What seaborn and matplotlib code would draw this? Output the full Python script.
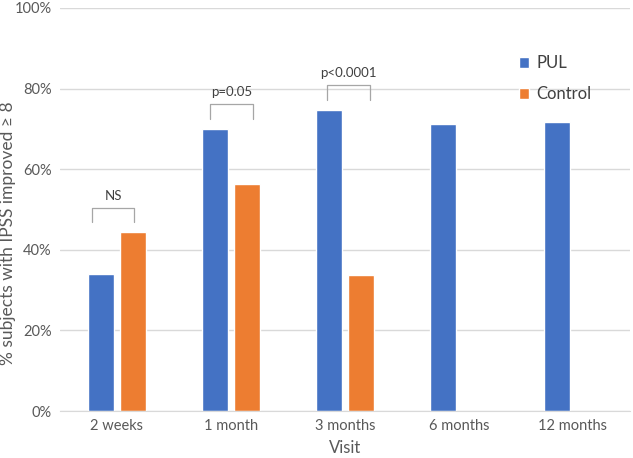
import numpy as np
import pandas as pd
import matplotlib
matplotlib.use("Agg")
import matplotlib.pyplot as plt
import seaborn as sns

visits = ["2 weeks", "1 month", "3 months", "6 months", "12 months"]
pul = [34.0, 70.0, 74.7, 71.3, 71.8]
control = [44.4, 56.3, 33.7, np.nan, np.nan]
groups = ["PUL", "Control"]
colors = ["#4472C4", "#ED7D31"]

brackets = [
    # (visit index, left, right, leg bottom, top, label)
    (0, -0.22, 0.15, 46.9, 50.4, "NS"),
    (1, -0.18, 0.19, 72.5, 76.2, "p=0.05"),
    (2, -0.16, 0.22, 77.2, 80.9, "p<0.0001"),
]

df = pd.DataFrame({
    "Visit": visits * 2,
    "value": pul + control,
    "group": ["PUL"] * len(visits) + ["Control"] * len(visits),
}).dropna()

sns.set_style("white")
plt.rcParams["font.family"] = ["Lato", "DejaVu Sans"]

fig = plt.figure(figsize=(6.33, 4.58), dpi=100)
ax = fig.add_axes([0.0948, 0.1026, 0.9002, 0.88])

sns.barplot(data=df, x="Visit", y="value", hue="group", order=visits,
            hue_order=groups, palette=colors, width=0.56, gap=0.18,
            ax=ax, saturation=1, errorbar=None)

ax.set_ylim(0, 100)
ax.set_xlim(-0.5, len(visits) - 0.5)
ax.set_yticks(range(0, 101, 20))
ax.set_yticklabels([f"{v}%" for v in range(0, 101, 20)])
ax.yaxis.grid(True, color="#d9d9d9", linewidth=1)
ax.set_axisbelow(True)
for s in ["top", "right", "left"]:
    ax.spines[s].set_visible(False)
ax.spines["bottom"].set_color("#d9d9d9")
ax.tick_params(axis="both", length=0, labelsize=10.5, colors="#595959", pad=6)
ax.set_xlabel("Visit", fontsize=12, color="#595959")
ax.xaxis.set_label_coords(0.5, -0.072)
ax.set_ylabel("% subjects with IPSS improved \u2265 8", fontsize=12.5, color="#595959")
ax.yaxis.set_label_coords(-0.078, 0.44)

for i, l, r, lo, hi, lab in brackets:
    ax.plot([i + l, i + l, i + r, i + r], [lo, hi, hi, lo], color="#a6a6a6", linewidth=0.9)
    ax.text(i + (l + r) / 2, hi + 1.5, lab, ha="center", va="bottom", fontsize=9.5, color="#404040")

leg = ax.legend(loc="upper left", bbox_to_anchor=(0.78, 0.92), frameon=False,
                fontsize=12, handlelength=0.6, handleheight=0.6, handletextpad=0.4,
                labelspacing=0.9)
for t in leg.get_texts():
    t.set_color("#404040")

fig.savefig("out.png", dpi=100)
